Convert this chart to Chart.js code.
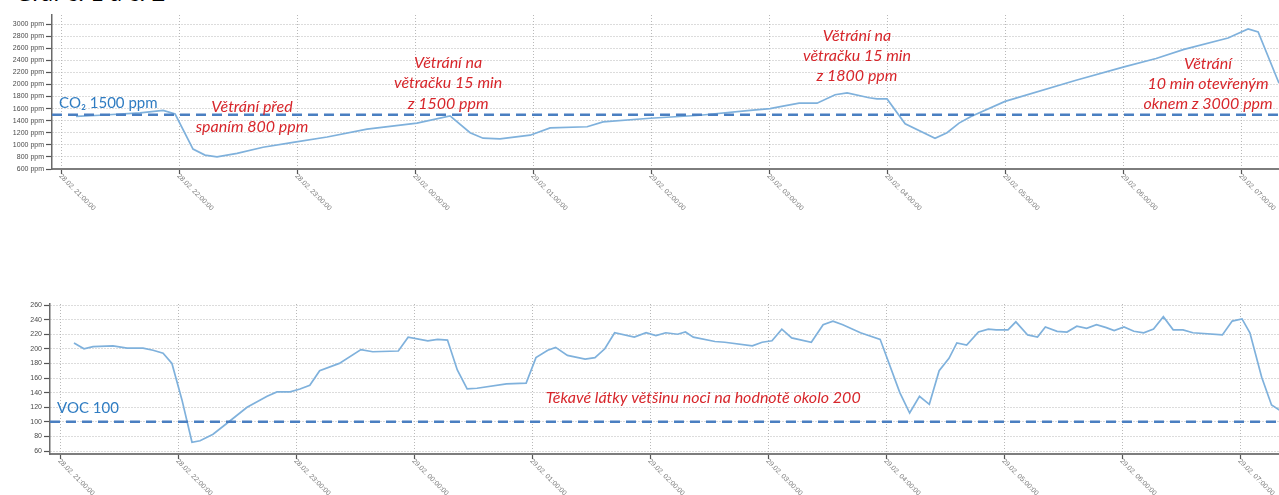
<!DOCTYPE html>
<html>
<head>
<meta charset="utf-8">
<script src="https://cdn.jsdelivr.net/npm/chart.js@4.4.1/dist/chart.umd.min.js"></script>
<style>
  html, body { margin: 0; padding: 0; background: #ffffff; overflow: hidden; }
  body { width: 1279px; height: 495px; position: relative; }
  #title { position: absolute; left: 15px; top: -20px; font: 24px Lato, sans-serif; line-height: 24px; color: #000; white-space: nowrap; }
  .box { position: absolute; left: 0; width: 1279px; }
  #topBox { top: 0; height: 250px; }
  #botBox { top: 290px; height: 205px; }
</style>
</head>
<body>
<div id="title">Graf č. 1 a č. 2</div>
<div class="box" id="topBox"><canvas id="co2"></canvas></div>
<div class="box" id="botBox"><canvas id="voc"></canvas></div>
<script>
// ---------- data (minutes after 28.02. 21:00) ----------
const xTickMinutes = [0, 60, 120, 180, 240, 300, 360, 420, 480, 540, 600];
const xTickLabels = ['28.02. 21:00:00', '28.02. 22:00:00', '28.02. 23:00:00', '29.02. 00:00:00',
  '29.02. 01:00:00', '29.02. 02:00:00', '29.02. 03:00:00', '29.02. 04:00:00',
  '29.02. 05:00:00', '29.02. 06:00:00', '29.02. 07:00:00'];

const co2Ticks = [600, 800, 1000, 1200, 1400, 1600, 1800, 2000, 2200, 2400, 2600, 2800, 3000];
const co2Minutes = [7.6, 19.8, 40.2, 51.9, 58.0, 67.1, 73.2, 79.3, 89.5, 102.7, 118.0, 135.3, 155.6,
  181.0, 197.8, 208.0, 214.6, 223.2, 238.5, 248.7, 267.5, 275.6, 299.5, 324.9, 350.4, 360.5, 367.1,
  375.3, 384.4, 393.6, 399.7, 410.9, 414.9, 420.0, 429.2, 444.4, 450.5, 456.6, 462.7, 480.0, 516.1,
  540.5, 556.8, 571.0, 593.4, 603.6, 608.7, 619.3];
const co2Values = [1470, 1490, 1530, 1570, 1510, 930, 830, 800, 860, 960, 1040, 1130, 1260,
  1360, 1480, 1200, 1110, 1100, 1160, 1280, 1300, 1380, 1440, 1490, 1570, 1600, 1640,
  1690, 1690, 1830, 1860, 1780, 1760, 1760, 1350, 1110, 1200, 1360, 1470, 1720, 2070,
  2290, 2430, 2580, 2770, 2920, 2870, 2020];
const co2Limit = 1500;

const vocTicks = [60, 80, 100, 120, 140, 160, 180, 200, 220, 240, 260];
const vocMinutes = [7.1, 12.2, 16.8, 26.9, 34.1, 42.2, 47.3, 52.4, 56.9, 62.0, 67.1, 71.2, 77.8, 84.9,
  95.1, 105.3, 110.3, 117.0, 122.0, 127.0, 132.0, 142.0, 153.0, 159.0, 172.0, 177.0, 187.0, 192.0,
  197.0, 202.0, 207.0, 212.0, 227.0, 237.0, 242.0, 248.0, 252.0, 258.0, 267.0, 272.0, 277.0, 282.0,
  292.0, 298.0, 303.0, 308.0, 314.0, 318.0, 322.0, 333.0, 338.0, 352.0, 357.0, 362.0, 367.0, 372.0,
  382.0, 388.0, 393.0, 398.0, 407.0, 417.0, 427.0, 432.0, 437.0, 442.0, 447.0, 452.0, 456.0, 461.0,
  467.0, 472.0, 476.0, 482.0, 486.0, 492.0, 497.0, 501.0, 507.0, 512.0, 517.0, 522.0, 527.0, 532.0,
  536.0, 541.0, 546.0, 551.0, 556.0, 561.0, 566.0, 571.0, 576.0, 591.0, 596.0, 601.0, 605.0, 611.0,
  616.0, 620.0];
const vocValues = [208, 200, 203, 204, 201, 201, 198, 194, 180, 130, 72, 74, 83, 98,
  120, 135, 141, 141, 145, 150, 170, 180, 199, 196, 197, 216, 211, 213,
  212, 171, 145, 146, 152, 153, 188, 198, 202, 191, 186, 188, 200, 222,
  216, 222, 218, 222, 220, 223, 216, 210, 209, 204, 209, 211, 227, 215,
  209, 233, 238, 233, 222, 213, 140, 112, 135, 124, 170, 187, 208, 205,
  223, 227, 226, 226, 237, 219, 216, 230, 224, 223, 231, 228, 233, 229,
  225, 230, 224, 222, 227, 244, 226, 226, 222, 219, 238, 241, 222, 161,
  123, 116];
const vocLimit = 100;

// annotations (anchor in data units: minutes, value)
const co2Notes = [
  { t: 97.1, v: 1627, lines: ['Větrání před', 'spaním 800 ppm'] },
  { t: 196.8, v: 2355, lines: ['Větrání na', 'větračku 15 min', 'z 1500 ppm'] },
  { t: 404.7, v: 2810, lines: ['Větrání na', 'větračku 15 min', 'z 1800 ppm'] },
  { t: 583.2, v: 2347, lines: ['Větrání', '10 min otevřeným', 'oknem z 3000 ppm'] }
];
const co2LimitLabel = { t: -1.0, v: 1693, text: 'CO₂ 1500 ppm' };
const vocNotes = [
  { t: 327, v: 132.6, lines: ['Těkavé látky většinu noci na hodnotě okolo 200'] }
];
const vocLimitLabel = { t: -1.5, v: 118.9, text: 'VOC 100' };

// ---------- styling ----------
const LINE_COLOR = '#7fb1dc';
const LIMIT_COLOR = '#4a7fc1';
const RED = '#d7262b';
const BLUE_TEXT = '#2f7cc2';
const GRID_COLOR = '#b8b8b8';

function notesPlugin(id, notes, limitLabel) {
  return {
    id: id,
    afterDatasetsDraw(chart) {
      const ctx = chart.ctx, xs = chart.scales.x, ys = chart.scales.y;
      ctx.save();
      ctx.font = 'italic 16px Lato, sans-serif';
      ctx.fillStyle = RED;
      ctx.textAlign = 'center';
      ctx.textBaseline = 'middle';
      notes.forEach(n => {
        const x = xs.getPixelForValue(n.t), y = ys.getPixelForValue(n.v);
        n.lines.forEach((l, i) => ctx.fillText(l, x, y + i * 20.3));
      });
      ctx.font = '15px Lato, sans-serif';
      ctx.fillStyle = BLUE_TEXT;
      ctx.textAlign = 'left';
      ctx.fillText(limitLabel.text, xs.getPixelForValue(limitLabel.t), ys.getPixelForValue(limitLabel.v));
      ctx.restore();
    },
    afterDraw(chart) {
      const ctx = chart.ctx, xs = chart.scales.x;
      ctx.save();
      ctx.font = '7px Arial, "Liberation Sans", sans-serif';
      ctx.fillStyle = '#7a7a7a';
      ctx.textAlign = 'left';
      ctx.textBaseline = 'middle';
      xTickMinutes.forEach((m, i) => {
        const x = xs.getPixelForValue(m);
        ctx.save();
        ctx.translate(x - 1, xs.top + 6);
        ctx.rotate(Math.PI / 4);
        ctx.fillText(xTickLabels[i], 0, 0);
        ctx.restore();
      });
      ctx.restore();
    }
  };
}

function makeChart(canvasId, cfg) {
  const xy = (mins, vals) => mins.map((m, i) => ({ x: m, y: vals[i] }));
  return new Chart(document.getElementById(canvasId), {
    type: 'line',
    data: {
      datasets: [
        {
          data: [{ x: cfg.xMin, y: cfg.limit }, { x: cfg.xMax, y: cfg.limit }],
          borderColor: LIMIT_COLOR, borderWidth: 2.5, borderDash: [10, 6],
          pointRadius: 0, order: 0
        },
        {
          data: xy(cfg.minutes, cfg.values),
          borderColor: LINE_COLOR, borderWidth: 1.7, pointRadius: 0,
          tension: 0, order: 1
        }
      ]
    },
    options: {
      responsive: true,
      maintainAspectRatio: false,
      animation: false,
      events: [],
      layout: { padding: { top: cfg.padTop, right: 0, left: 0, bottom: 0 } },
      plugins: { legend: { display: false }, tooltip: { enabled: false }, title: { display: false } },
      scales: {
        x: {
          type: 'linear', min: cfg.xMin, max: cfg.xMax,
          afterBuildTicks: a => { a.ticks = xTickMinutes.map(v => ({ value: v })); },
          afterFit: a => { a.height = cfg.xAxisHeight; },
          ticks: { display: false },
          grid: { color: GRID_COLOR, lineWidth: 1, drawTicks: true, tickLength: 5, tickColor: '#555', tickWidth: 1.2 },
          border: { display: true, color: '#7d7d7d', width: 2, dash: [1, 2] }
        },
        y: {
          min: cfg.yMin, max: cfg.yMax,
          afterBuildTicks: a => { a.ticks = cfg.yTicks.map(v => ({ value: v })); },
          afterFit: a => { a.width = cfg.yAxisWidth; },
          ticks: {
            font: { family: 'Arial, "Liberation Sans", sans-serif', size: 7 },
            color: '#4a4a4a', padding: 2,
            callback: v => v + cfg.unit
          },
          grid: { color: GRID_COLOR, lineWidth: 1, drawTicks: true, tickLength: 6, tickColor: '#555', tickWidth: 1.2 },
          border: { display: true, color: '#6a6a6a', width: 1.5, dash: [1, 2] }
        }
      }
    },
    plugins: [notesPlugin(canvasId + 'Notes', cfg.notes, cfg.limitLabel)]
  });
}

makeChart('co2', {
  xMin: -4.6, xMax: 619.3, yMin: 600, yMax: 3150, yTicks: co2Ticks, unit: ' ppm',
  minutes: co2Minutes, values: co2Values, limit: co2Limit,
  padTop: 15, xAxisHeight: 81, yAxisWidth: 52,
  notes: co2Notes, limitLabel: co2LimitLabel
});

makeChart('voc', {
  xMin: -5.1, xMax: 619.8, yMin: 55.9, yMax: 261.4, yTicks: vocTicks, unit: '',
  minutes: vocMinutes, values: vocValues, limit: vocLimit,
  padTop: 14, xAxisHeight: 41, yAxisWidth: 50,
  notes: vocNotes, limitLabel: vocLimitLabel
});
</script>
</body>
</html>
